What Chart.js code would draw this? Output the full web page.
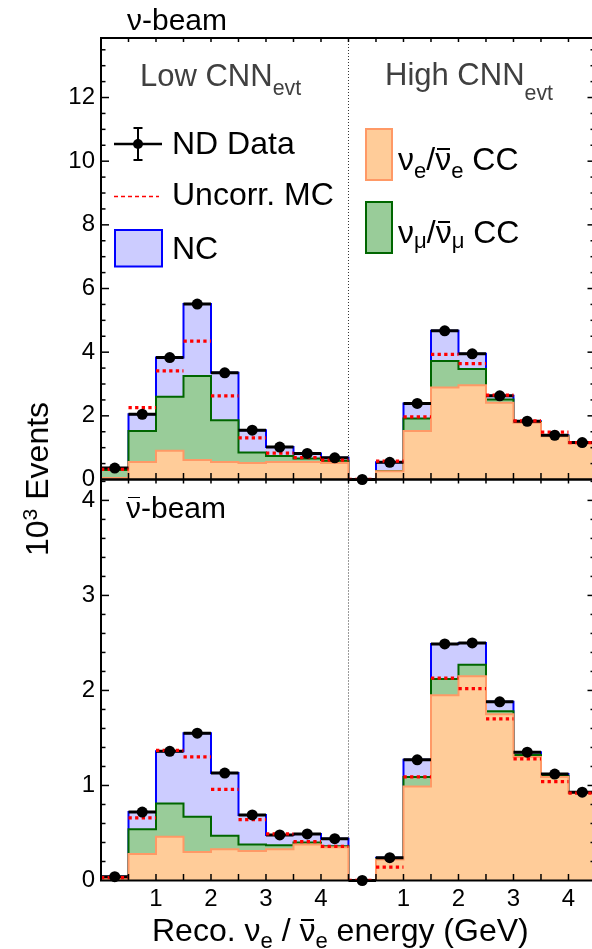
<!DOCTYPE html>
<html>
<head>
<meta charset="utf-8">
<script src="https://cdn.jsdelivr.net/npm/chart.js@4.4.1/dist/chart.umd.min.js"></script>
<style>
  html, body { margin: 0; padding: 0; background: #fff; }
  body { width: 592px; height: 949px; overflow: hidden; position: relative; font-family: 'Liberation Sans', Arial, sans-serif; }
  canvas { position: absolute; left: 0; }
  #topChart { top: 0; }
  #botChart { top: 470px; }
  .lbl { position: absolute; white-space: nowrap; line-height: 1; color: #000; }
  .sub { position: relative; font-size: 0.69em; }
  .sup { position: relative; top: -0.5em; font-size: 0.66em; }
  .bar { position: relative; }
  .bar::after { content: ''; position: absolute; left: 0.06em; right: 0.04em; top: 0.22em; border-top: 0.065em solid currentColor; }
</style>
</head>
<body>
<canvas id="topChart" width="600" height="490"></canvas>
<canvas id="botChart" width="600" height="479"></canvas>
<script>
// values in 10^3 events per 0.5 GeV bin
const binLow = [0, 0.5, 1, 1.5, 2, 2.5, 3, 3.5, 4]
const binWidth = 0.5
const highOffset = 4.5 // High CNN segment sits right of the Low CNN one

// nu-beam, Low CNN
const nuLowData = [0.36, 2.05, 3.83, 5.51, 3.35, 1.55, 1.02, 0.82, 0.68]
const nuLowUncorr = [0.32, 2.26, 3.41, 4.35, 2.63, 1.31, 0.83, 0.69, 0.61]
const nuLowNueCC = [0.05, 0.55, 0.9, 0.61, 0.55, 0.52, 0.55, 0.55, 0.52]
const nuLowNumuCC = [0.25, 0.97, 1.7, 2.64, 1.31, 0.33, 0.19, 0.11, 0.07]
const nuLowNC = [0.06, 0.53, 1.23, 2.26, 1.49, 0.7, 0.28, 0.16, 0.09]
// nu-beam, High CNN
const nuHighData = [0, 0.54, 2.39, 4.67, 3.95, 2.63, 1.83, 1.39, 1.16]
const nuHighUncorr = [0, 0.58, 1.97, 3.93, 3.64, 2.65, 1.84, 1.49, 1.16]
const nuHighNueCC = [0, 0.26, 1.52, 2.89, 2.96, 2.41, 1.78, 1.36, 1.14]
const nuHighNumuCC = [0, 0.01, 0.4, 0.83, 0.51, 0.1, 0.03, 0.01, 0.01]
const nuHighNC = [0, 0.27, 0.47, 0.95, 0.48, 0.12, 0.02, 0.02, 0.01]
// antinu-beam, Low CNN
const anuLowData = [0.04, 0.72, 1.36, 1.55, 1.13, 0.69, 0.48, 0.49, 0.44]
const anuLowUncorr = [0.03, 0.66, 1.37, 1.3, 0.96, 0.64, 0.49, 0.41, 0.36]
const anuLowNueCC = [0.02, 0.28, 0.46, 0.3, 0.33, 0.31, 0.33, 0.38, 0.35]
const anuLowNumuCC = [0.01, 0.26, 0.35, 0.37, 0.14, 0.07, 0.04, 0.02, 0.01]
const anuLowNC = [0.01, 0.18, 0.55, 0.88, 0.66, 0.31, 0.11, 0.09, 0.08]
// antinu-beam, High CNN
const anuHighData = [0, 0.24, 1.27, 2.49, 2.5, 1.88, 1.35, 1.12, 0.93]
const anuHighUncorr = [0, 0.14, 1.09, 2.13, 2.02, 1.7, 1.28, 1.04, 0.92]
const anuHighNueCC = [0, 0.22, 0.99, 1.95, 2.15, 1.75, 1.3, 1.09, 0.92]
const anuHighNumuCC = [0, 0.01, 0.1, 0.17, 0.12, 0.03, 0.02, 0.01, 0.01]
const anuHighNC = [0, 0.01, 0.18, 0.37, 0.23, 0.1, 0.03, 0.02, 0]

const yTicksTop = [0, 2, 4, 6, 8, 10, 12]
const yTicksBottom = [0, 1, 2, 3, 4]
const xTickEnergies = [1, 2, 3, 4]

const orangeFill = '#ffcc99', orangeLine = '#ff9966'
const greenFill = '#99cc99', greenLine = '#006600'
const blueFill = '#ccccff', blueLine = '#0000ff'
const tickFont = { family: 'Liberation Sans', size: 24 }

function addUp(...arrs) {
  return arrs[0].map((_, i) => arrs.reduce((s, a) => s + a[i], 0))
}

// (value, left edge) for every bin of both segments
function bins(low, high) {
  return low.map((v, i) => [v, binLow[i]])
    .concat(high.map((v, i) => [v, highOffset + binLow[i]]))
}

function stepPoints(low, high) {
  const pts = []
  bins(low, high).forEach(([v, x0]) => {
    pts.push({ x: x0, y: v }, { x: x0 + binWidth, y: v })
  })
  return pts
}

function barPoints(low, high) {
  const pts = []
  bins(low, high).forEach(([v, x0]) => {
    pts.push({ x: x0, y: v }, { x: x0 + binWidth, y: v }, { x: x0 + binWidth, y: null })
  })
  return pts
}

function centerPoints(low, high) {
  return bins(low, high).map(([v, x0]) => ({ x: x0 + binWidth / 2, y: v }))
}

// stacked like a ROOT THStack: every cumulative sum filled from zero,
// the total drawn first and the smaller sums on top of it
function panelDatasets(p) {
  const greenLow = addUp(p.lowNue, p.lowNumu)
  const greenHigh = addUp(p.highNue, p.highNumu)
  const blueLow = addUp(greenLow, p.lowNC)
  const blueHigh = addUp(greenHigh, p.highNC)
  const base = { pointRadius: 0, tension: 0, spanGaps: false, borderJoinStyle: 'miter' }
  return [
    { ...base, data: stepPoints(blueLow, blueHigh), fill: 'origin',
      backgroundColor: blueFill, borderColor: blueLine, borderWidth: 2, order: 6 },
    { ...base, data: stepPoints(greenLow, greenHigh), fill: 'origin',
      backgroundColor: greenFill, borderColor: greenLine, borderWidth: 2, order: 5 },
    { ...base, data: stepPoints(p.lowNue, p.highNue), fill: 'origin',
      backgroundColor: orangeFill, borderColor: orangeLine, borderWidth: 2, order: 4 },
    { ...base, data: barPoints(p.lowData, p.highData), fill: false,
      borderColor: '#000', borderWidth: 3, order: 2, clip: false },
    { ...base, data: barPoints(p.lowUncorr, p.highUncorr), fill: false,
      borderColor: '#ff0000', borderWidth: 3.3, borderDash: [3.3, 3.3],
      borderCapStyle: 'butt', order: 1 },
    { data: centerPoints(p.lowData, p.highData), showLine: false, pointRadius: 5.5,
      pointBackgroundColor: '#000', pointBorderWidth: 0, order: 0, clip: false }
  ]
}

const frameTicks = {
  id: 'frameTicks',
  beforeDatasetsDraw(chart) {
    const { ctx, chartArea: a, scales: { x } } = chart
    const xd = x.getPixelForValue(highOffset)
    ctx.save()
    ctx.strokeStyle = '#333'
    ctx.lineWidth = 1
    ctx.setLineDash([1, 2])
    ctx.beginPath()
    ctx.moveTo(xd, a.top)
    ctx.lineTo(xd, a.bottom)
    ctx.stroke()
    ctx.restore()
  },
  afterDatasetsDraw(chart, args, opts) {
    const { ctx, chartArea: a, scales: { x, y } } = chart
    const seg = (x1, y1, x2, y2) => {
      ctx.beginPath(); ctx.moveTo(x1, y1); ctx.lineTo(x2, y2); ctx.stroke()
    }
    ctx.save()
    ctx.strokeStyle = '#000'
    ctx.lineWidth = 1.5
    const nMinor = Math.floor(y.max / opts.yMinor + 1e-6)
    const perMajor = Math.round(opts.yMajor / opts.yMinor)
    for (let i = 1; i <= nMinor; i++) {
      const py = y.getPixelForValue(i * opts.yMinor)
      const major = i % perMajor === 0
      seg(a.left, py, a.left + (major ? 8 : 4.5), py)
      seg(a.right, py, a.right - (major ? 6 : 3), py)
    }
    for (let v = binWidth; v < x.max; v += binWidth) {
      const px = x.getPixelForValue(v)
      seg(px, a.bottom, px, a.bottom - 6.5)
      seg(px, a.top, px, a.top + 4)
    }
    ctx.lineWidth = 2
    ctx.strokeRect(a.left, a.top, a.right - a.left, a.bottom - a.top)
    ctx.restore()
  }
}

// legend symbols of the top panel
const legendMarks = {
  id: 'legendMarks',
  afterDraw(chart, args, opts) {
    if (!opts.show) return
    const ctx = chart.ctx
    ctx.save()
    ctx.strokeStyle = '#000'
    ctx.lineWidth = 2.5
    ctx.beginPath(); ctx.moveTo(114, 144); ctx.lineTo(162, 144); ctx.stroke()
    ctx.lineWidth = 2
    ctx.beginPath()
    ctx.moveTo(138, 128); ctx.lineTo(138, 160)
    ctx.moveTo(133.5, 128); ctx.lineTo(142.5, 128)
    ctx.moveTo(133.5, 160); ctx.lineTo(142.5, 160)
    ctx.stroke()
    ctx.fillStyle = '#000'
    ctx.beginPath(); ctx.arc(138, 144, 5, 0, Math.PI * 2); ctx.fill()

    ctx.strokeStyle = '#ff0000'
    ctx.lineWidth = 1.5
    ctx.setLineDash([4, 3])
    ctx.beginPath(); ctx.moveTo(114, 196.5); ctx.lineTo(159, 196.5); ctx.stroke()
    ctx.setLineDash([])

    const box = (x, y, w, h, fill, line) => {
      ctx.fillStyle = fill
      ctx.strokeStyle = line
      ctx.lineWidth = 2
      ctx.fillRect(x, y, w, h)
      ctx.strokeRect(x, y, w, h)
    }
    box(115, 230, 47, 36.5, blueFill, blueLine)
    box(366, 129, 26, 51, orangeFill, orangeLine)
    box(366, 202, 26, 51, greenFill, greenLine)
    ctx.restore()
  }
}

function makeChart(id, panel, cfg) {
  return new Chart(document.getElementById(id), {
    type: 'line',
    data: { datasets: panelDatasets(panel) },
    plugins: [frameTicks, legendMarks],
    options: {
      responsive: false,
      animation: false,
      events: [],
      layout: { padding: cfg.padding },
      plugins: {
        legend: { display: false },
        tooltip: { enabled: false },
        frameTicks: { yMinor: cfg.yMinor, yMajor: cfg.yMajor },
        legendMarks: { show: cfg.legend }
      },
      scales: {
        x: {
          type: 'linear',
          min: 0,
          max: 8.955,
          display: cfg.showX,
          grid: { display: false, drawTicks: false },
          border: { display: false },
          afterBuildTicks: (scale) => {
            scale.ticks = xTickEnergies.map((e) => ({ value: e }))
              .concat(xTickEnergies.map((e) => ({ value: e + highOffset })))
          },
          afterFit: (scale) => {
            scale.height = cfg.showX ? 68.5 : 0
            scale.paddingLeft = 0
            scale.paddingRight = 0
          },
          ticks: {
            autoSkip: false,
            maxRotation: 0,
            padding: 4,
            color: '#000',
            font: tickFont,
            callback: (v, i) => String(xTickEnergies[i % xTickEnergies.length])
          }
        },
        y: {
          type: 'linear',
          min: 0,
          max: cfg.yMax,
          grid: { display: false, drawTicks: false },
          border: { display: false },
          afterBuildTicks: (scale) => {
            scale.ticks = cfg.yTicks.map((v) => ({ value: v }))
          },
          afterFit: (scale) => {
            scale.width = 101
            scale.paddingTop = 0
            scale.paddingBottom = 0
          },
          ticks: { padding: 6, color: '#000', font: tickFont }
        }
      }
    }
  })
}

makeChart('topChart', {
  lowData: nuLowData, lowUncorr: nuLowUncorr, lowNue: nuLowNueCC, lowNumu: nuLowNumuCC, lowNC: nuLowNC,
  highData: nuHighData, highUncorr: nuHighUncorr, highNue: nuHighNueCC, highNumu: nuHighNumuCC, highNC: nuHighNC
}, {
  padding: { top: 38, right: 6.5, bottom: 10.5, left: 0 },
  yMax: 13.87, yTicks: yTicksTop, yMinor: 0.5, yMajor: 2, showX: false, legend: true
})

makeChart('botChart', {
  lowData: anuLowData, lowUncorr: anuLowUncorr, lowNue: anuLowNueCC, lowNumu: anuLowNumuCC, lowNC: anuLowNC,
  highData: anuHighData, highUncorr: anuHighUncorr, highNue: anuHighNueCC, highNumu: anuHighNumuCC, highNC: anuHighNC
}, {
  padding: { top: 9.5, right: 6.5, bottom: 0, left: 0 },
  yMax: 4.22, yTicks: yTicksBottom, yMinor: 0.2, yMajor: 1, showX: true, legend: false
})

// text: x = left edge, baseline in page pixels
function addText(html, x, baseline, size, color) {
  const d = document.createElement('div')
  d.className = 'lbl'
  d.innerHTML = html
  d.style.left = x + 'px'
  d.style.top = (baseline - 0.8465 * size) + 'px'
  d.style.fontSize = size + 'px'
  if (color) d.style.color = color
  document.body.appendChild(d)
  return d
}

const nuBar = '<span class="bar">ν</span>'
addText('ν-beam', 127, 30, 30)
addText(nuBar + '-beam', 126, 518, 30)
addText('Low CNN<span class="sub" style="top:0.45em">evt</span>', 140, 86, 31, '#404040')
addText('High CNN<span class="sub" style="top:0.72em">evt</span>', 385, 85, 31, '#404040')
addText('ND Data', 172, 154.5, 32)
addText('Uncorr. MC', 172, 205, 32)
addText('NC', 172, 259.5, 32)
addText('ν<span class="sub" style="top:0.36em">e</span>/' + nuBar +
  '<span class="sub" style="top:0.36em">e</span> CC', 398, 170, 32)
addText('ν<span class="sub" style="top:0.2em">μ</span>/' + nuBar +
  '<span class="sub" style="top:0.2em">μ</span> CC', 398, 243.5, 32)
addText('Reco. ν<span class="sub" style="top:0.3em">e</span> / ' + nuBar +
  '<span class="sub" style="top:0.3em">e</span> energy (GeV)', 152, 941.5, 32)

const yTitle = addText('10<span class="sup">3</span> Events', 0, 0, 32)
yTitle.style.left = '37px'
yTitle.style.top = '479px'
yTitle.style.transform = 'translate(-50%, -50%) rotate(-90deg)'
</script>
</body>
</html>
